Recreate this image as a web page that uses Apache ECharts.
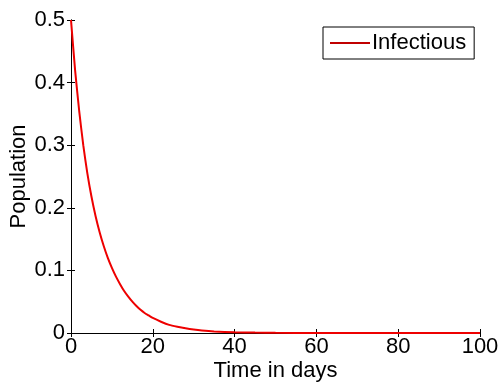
<!DOCTYPE html>
<html>
<head>
<meta charset="utf-8">
<script src="https://cdn.jsdelivr.net/npm/echarts@6/dist/echarts.min.js"></script>
<style>
  html, body { margin: 0; padding: 0; background: #fff; }
  #chart { width: 499px; height: 385px; }
</style>
</head>
<body>
<div id="chart"></div>
<script>
// Infectious fraction of the population over time (days)
var days = [0, 1, 2, 3, 4, 5, 6, 7, 8, 9, 10, 11, 12, 13, 14, 15, 16, 17, 18, 19, 20,
            22, 24, 26, 28, 30, 32, 35, 40, 45, 50, 60, 70, 80, 90, 100];
var infectious = [0.5, 0.42, 0.355, 0.30, 0.255, 0.218, 0.187, 0.161, 0.139, 0.120, 0.104,
                  0.090, 0.078, 0.067, 0.058, 0.050, 0.043, 0.037, 0.032, 0.028, 0.024,
                  0.018, 0.013, 0.010, 0.0075, 0.0055, 0.004, 0.0025, 0.0012, 0.0006, 0.0003,
                  0.0001, 0.00003, 0.00001, 0, 0];
var xTicks = [0, 20, 40, 60, 80, 100];
var yTicks = [0, 0.1, 0.2, 0.3, 0.4, 0.5];

var font = 'Liberation Sans, Arial, sans-serif';
var fs = 22;
var axisCol = '#000';

var points = days.map(function (d, i) { return [d, infectious[i]]; });

function frameAxis(extra) {
  var base = {
    axisLine: { show: true, lineStyle: { color: axisCol, width: 1 } },
    axisTick: { show: true, inside: true, length: 4, lineStyle: { color: axisCol } },
    splitLine: { show: false }
  };
  for (var k in extra) base[k] = extra[k];
  return base;
}

var chart = echarts.init(document.getElementById('chart'), null, { renderer: 'canvas' });
chart.setOption({
  animation: false,
  backgroundColor: '#fff',
  grid: { left: 71, right: 19, top: 20, bottom: 52, containLabel: false, outerBoundsMode: 'none' },
  legend: {
    show: true,
    data: ['Infectious'],
    left: 323,
    top: 27,
    orient: 'horizontal',
    padding: [5, 8, 5, 7],
    borderColor: '#000',
    borderWidth: 1,
    borderRadius: 0,
    backgroundColor: '#fff',
    icon: 'rect',
    itemWidth: 40,
    itemHeight: 2,
    itemGap: 4,
    textStyle: { fontFamily: font, fontSize: fs, color: '#000', padding: [0, 0, 0, -3] }
  },
  xAxis: [
    frameAxis({
      type: 'value', min: 0, max: 100, interval: 20, position: 'bottom',
      name: 'Time in days', nameLocation: 'middle', nameGap: 27, nameMoveOverlap: false,
      nameTextStyle: { fontFamily: font, fontSize: fs, color: '#000' },
      axisLabel: { fontFamily: font, fontSize: fs, color: '#000', margin: 3,
                   formatter: function (v) { return xTicks.indexOf(v) >= 0 ? String(v) : ''; } }
    }),
    frameAxis({
      type: 'value', min: 0, max: 100, interval: 20, position: 'top',
      axisLabel: { show: false }
    })
  ],
  yAxis: [
    frameAxis({
      type: 'value', min: 0, max: 0.5, interval: 0.1, position: 'left',
      name: 'Population', nameLocation: 'middle', nameGap: 41, nameMoveOverlap: false,
      nameTextStyle: { fontFamily: font, fontSize: fs, color: '#000' },
      axisLabel: { fontFamily: font, fontSize: fs, color: '#000', margin: 6,
                   formatter: function (v) {
                     var r = Math.round(v * 10) / 10;
                     return yTicks.indexOf(r) >= 0 ? String(r) : '';
                   } }
    }),
    frameAxis({
      type: 'value', min: 0, max: 0.5, interval: 0.1, position: 'right',
      axisLabel: { show: false }
    })
  ],
  series: [{
    name: 'Infectious',
    type: 'line',
    xAxisIndex: 0,
    yAxisIndex: 0,
    data: points,
    smooth: 0.2,
    showSymbol: false,
    symbol: 'none',
    lineStyle: { color: '#ee0000', width: 2 },
    itemStyle: { color: '#c00000' }
  }]
});
</script>
</body>
</html>
